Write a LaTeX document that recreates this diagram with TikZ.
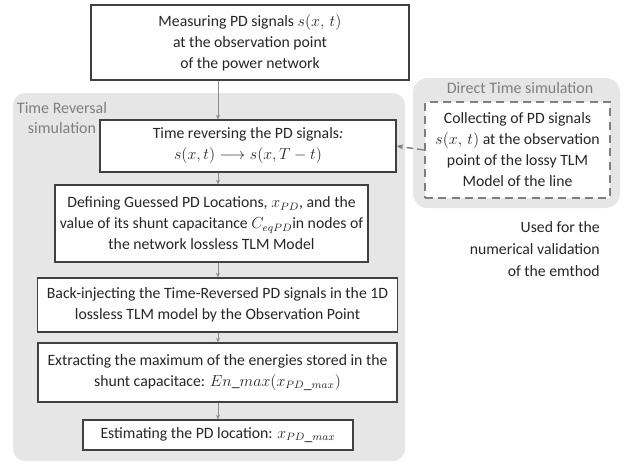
\documentclass[tikz,border=0pt]{standalone}
\usepackage{fontspec}
\setmainfont{Carlito}
\usetikzlibrary{arrows.meta}
\definecolor{panel}{HTML}{E6E6E6}
\definecolor{boxline}{HTML}{404040}
\definecolor{txt}{HTML}{262626}
\definecolor{lbl}{HTML}{7F7F7F}
\definecolor{flowc}{HTML}{8C8C8C}
\tikzset{
  stepbox/.style={draw=boxline,line width=0.9pt,fill=white,text=txt,align=center,
    inner sep=0pt,font=\fontsize{11.8}{15.75}\selectfont},
  flow/.style={draw=flowc,line width=0.6pt,-{Stealth[length=3.5pt,width=3pt]}},
  panellbl/.style={text=lbl,font=\fontsize{12}{15}\selectfont,inner sep=0pt}
}
\begin{document}
\begin{tikzpicture}[x=0.75pt,y=-0.75pt]
    \useasboundingbox (0,0) rectangle (630,464);
    % panels
    \fill[panel,rounded corners=9pt] (13,93) rectangle (405,461);
    \fill[panel,rounded corners=11pt] (413,78) rectangle (620,208);
    \node[panellbl,align=center] (trlbl) at (62,118) {Time Reversal\\simulation};
    \node[panellbl] (dtlbl) at (520,88) {Direct Time simulation};
    % boxes
    \node[stepbox,minimum width=318*0.75pt,minimum height=75*0.75pt] (meas) at (250,42.5)
      {Measuring PD signals $s(x,\,t)$\\at the observation point\\of the power network};
    \node[stepbox,minimum width=296*0.75pt,minimum height=52*0.75pt] (trev) at (248,146)
      {Time reversing the PD signals\textit{:}\\$s(x,t)\longrightarrow s(x,T-t)$};
    \node[stepbox,minimum width=313*0.75pt,minimum height=77*0.75pt] (guess) at (211.5,223.5)
      {Defining Guessed PD Locations, $x_{PD}$, and the\\value of its shunt capacitance $C_{eqPD}$in nodes of\\the network lossless TLM Model};
    \node[stepbox,minimum width=360*0.75pt,minimum height=54*0.75pt] (inject) at (217.5,305)
      {Back-injecting the Time-Reversed PD signals in the 1D\\lossless TLM model by the Observation Point};
    \node[stepbox,minimum width=359*0.75pt,minimum height=59*0.75pt] (extract) at (217.5,372.5)
      {Extracting the maximum of the energies stored in the\\shunt capacitace: $En\_max(x_{PD\_max})$};
    \node[stepbox,minimum width=270*0.75pt,minimum height=30*0.75pt] (estim) at (218,435)
      {Estimating the PD location: $x_{PD\_max}$};
    \node[stepbox,draw=lbl,dash pattern=on 6pt off 4pt,line width=1pt,
      minimum width=185*0.75pt,minimum height=96*0.75pt] (collect) at (517.5,150)
      {Collecting of PD signals\\$s(x,\,t)$ at the observation\\point of the lossy TLM\\Model of the line};
    \node[text=txt,align=right,anchor=east,inner sep=0pt,
      font=\fontsize{11.8}{16.5}\selectfont] (note) at (600,249)
      {Used for the\\numerical validation\\of the emthod};
    % connectors
    \draw[flow] (meas.south -| estim) -- (trev.north -| estim);
    \draw[flow] (trev.south -| estim) -- (guess.north -| estim);
    \draw[flow] (guess.south -| estim) -- (inject.north -| estim);
    \draw[flow] (inject.south -| estim) -- (extract.north -| estim);
    \draw[flow] (extract.south -| estim) -- (estim.north);
    \draw[draw=lbl,line width=1.1pt,dash pattern=on 5pt off 3pt,
      -{Stealth[length=5pt,width=4pt]}] ([xshift=-0.5pt]collect.west) -- (trev.east);
\end{tikzpicture}
\end{document}
